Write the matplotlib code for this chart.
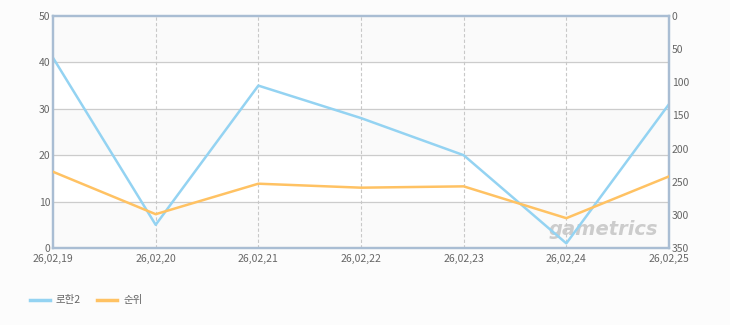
import matplotlib.pyplot as plt
import numpy as np

plt.rcParams['font.family'] = ['Noto Sans CJK KR', 'DejaVu Sans']

dates = ["26,02,19", "26,02,20", "26,02,21", "26,02,22", "26,02,23", "26,02,24", "26,02,25"]
rohan2 = [41, 5, 35, 28, 20, 1, 31]
rank = [235, 299, 253, 259, 257, 305, 242]

blue = '#94d3f2'
orange = '#ffc263'
frame = '#a9bdd3'
txt = '#666666'

fig = plt.figure(figsize=(7.3, 3.25), dpi=100, facecolor='#fcfcfc')
ax = fig.add_axes([53/730, 77/325, 616/730, 232/325])
ax.set_facecolor('white')
x = np.arange(len(dates))

# alternating bands
for lo in (0, 20, 40):
    ax.axhspan(lo, lo + 10, color='#fafafa', zorder=0)
for v in (10, 20, 30, 40):
    ax.axhline(v, color='#cccccc', lw=0.9, zorder=1)
for xi in x[1:-1]:
    ax.axvline(xi, color='#c8c8c8', lw=0.8, ls=(0, (3, 2)), zorder=1)

ax.plot(x, rohan2, color=blue, lw=1.8, zorder=3)
ax.set_xlim(0, len(dates) - 1)
ax.set_ylim(0, 50)
ax.set_yticks(range(0, 51, 10))
ax.set_xticks(x, dates)

ax2 = ax.twinx()
ax2.plot(x, rank, color=orange, lw=1.8, zorder=3)
ax2.set_ylim(350, 0)
ax2.set_yticks(range(0, 351, 50))

for a in (ax, ax2):
    for s in a.spines.values():
        s.set_color(frame)
        s.set_linewidth(1.6)
    a.tick_params(length=0, labelsize=7.5, colors=txt, pad=2)
ax.tick_params(axis='x', pad=4)

ax.text(0.805, 0.055, 'gametrics', transform=ax.transAxes, fontsize=14,
        fontstyle='italic', fontweight='bold', color='#c4c4c4', alpha=0.85,
        family='DejaVu Sans', zorder=2)

# legend
fig.lines.append(plt.Line2D([30/730, 50/730], [1 - 300/325] * 2, color=blue, lw=2.5, transform=fig.transFigure))
fig.text(56/730, 1 - 300/325, '로한2', fontsize=7.5, color=txt, va='center')
fig.lines.append(plt.Line2D([97/730, 117/730], [1 - 300/325] * 2, color=orange, lw=2.5, transform=fig.transFigure))
fig.text(123/730, 1 - 300/325, '순위', fontsize=7.5, color=txt, va='center')

fig.savefig('out.png', dpi=100, facecolor=fig.get_facecolor())
